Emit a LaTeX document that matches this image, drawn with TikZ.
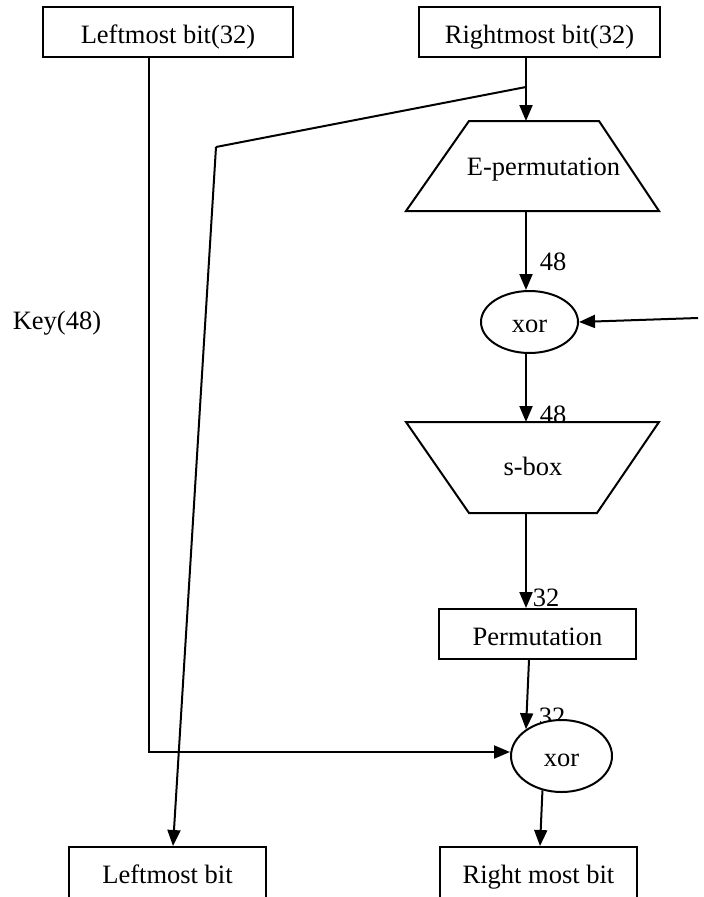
\documentclass[tikz,border=0pt]{standalone}
\usepackage{fontspec}
\setmainfont{Liberation Serif}
\usetikzlibrary{arrows.meta,shapes.geometric}
\begin{document}
\begin{tikzpicture}[x=1pt,y=-1pt,
  every node/.style={font=\fontsize{26.5pt}{30pt}\selectfont, inner sep=0pt},
  box/.style={draw, line width=2pt, fill=white, minimum height=50pt,
    text height=23pt, text depth=1pt},
  outbox/.style={box, minimum width=197pt, minimum height=60pt,
    text height=13pt, text depth=1pt},
  blockshape/.style={draw, line width=2pt, fill=white, line join=miter},
  oval/.style={draw, ellipse, line width=2pt, fill=white,
    text height=20pt, text depth=0pt},
  wire/.style={line width=2pt},
  arr/.style={wire, -{Triangle[length=16pt,width=13pt]}}
]
\useasboundingbox (0,0) rectangle (704,897);
\clip (0,0) rectangle (704,897);

% input halves
\node[box, minimum width=250pt] (lt) at (168,32) {Leftmost bit(32)};
\node[box, minimum width=241pt] (rt) at (539.5,32) {Rightmost bit(32)};
\node (key) at (57,323) {Key(48)};

% bit-width labels (partly covered by the shapes below them)
\node (n1) at (553,262) {48};
\node (n2) at (553,415) {48};
\node (n3) at (546,598) {32};
\node (n4) at (552,717) {32};

% expansion permutation (narrow side up)
\coordinate (epN) at (532.5,121);
\coordinate (epS) at (532.5,211);
\filldraw[blockshape] (469,121) -- (599,121) -- (659,211) -- (406,211) -- cycle;
\node (ep) at (543.5,170) {E-permutation};

\node[oval, minimum width=97pt, minimum height=62pt] (x1) at (529.5,322) {xor};

% substitution boxes (wide side up)
\coordinate (sbN) at (532.5,422);
\coordinate (sbS) at (532.5,513);
\filldraw[blockshape] (406,422) -- (659,422) -- (597,513) -- (469,513) -- cycle;
\node (sb) at (533,466) {s-box};

\node[box, minimum width=197pt] (pm) at (537.5,634) {Permutation};
\node[oval, minimum width=101pt, minimum height=72pt] (x2) at (561.5,756) {xor};

% output halves (run past the lower edge)
\node[outbox] (lb) at (167.5,877) {Leftmost bit};
\node[outbox] (rb) at (538.5,877) {Right most bit};

% wiring columns and bends
\coordinate (c0) at (149,0);
\coordinate (c1) at (526,0);
\coordinate (c2) at (173,0);
\coordinate (c3) at (529,0);
\coordinate (c4) at (540,0);
\coordinate (br) at (526,87);
\coordinate (bend) at (216,147);
\coordinate (kin) at (698,318);

% connectors
\draw[arr] (rt.south -| c1) -- (epN -| c1);
\draw[wire] (br) -- (bend);
\draw[arr] (bend) -- (lb.north -| c2);
\draw[arr] (lt.south -| c0) |- ([yshift=4pt]x2.west);
\draw[arr] (epS -| c1) -- (x1.north -| c1);
\draw[arr] (kin) -- (x1.east);
\draw[arr] (x1.south -| c1) -- (sbN -| c1);
\draw[arr] (sbS -| c1) -- (pm.north -| c1);
\draw[arr] (pm.south -| c3) -- (x2.143);
\draw[arr] (x2.241) -- (rb.north -| c4);
\end{tikzpicture}
\end{document}
